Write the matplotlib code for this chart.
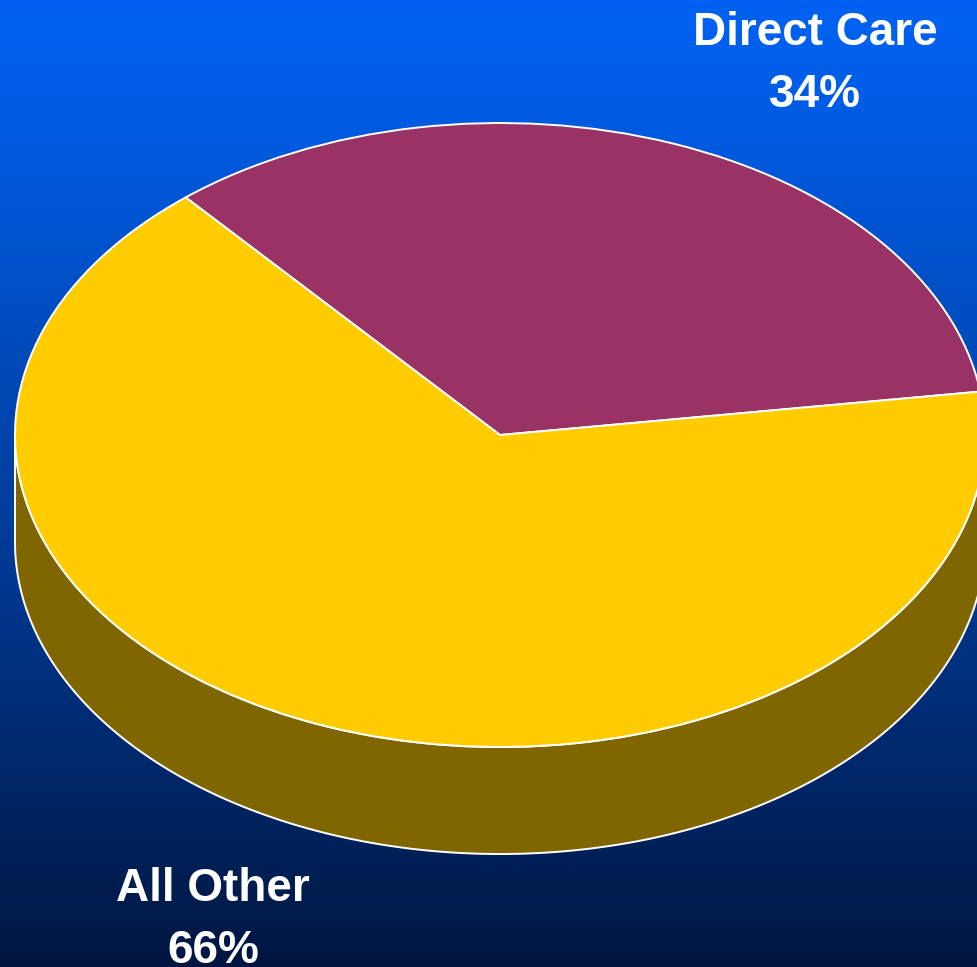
import numpy as np
import matplotlib
matplotlib.use("Agg")
import matplotlib.pyplot as plt

# data
labels = ["Direct Care", "All Other"]
shares = [34, 66]
top_colors = ["#993366", "#FFCC00"]
side_colors = ["#5C1F3D", "#806600"]
start_angle = 8

W, H = 977, 967
depth = 0.343  # wall height in units of the vertical radius

fig = plt.figure(figsize=(W / 100, H / 100), dpi=100)

# background gradient
bg = fig.add_axes([0, 0, 1, 1])
top_rgb = np.array([0, 98, 242]) / 255
bot_rgb = np.array([0, 22, 64]) / 255
f = np.linspace(0, 1, 256)[:, None] ** 1.15
grad = (1 - f) * top_rgb + f * bot_rgb
bg.imshow(grad[:, None, :], aspect="auto", extent=[0, 1, 0, 1])
bg.set_axis_off()

ax = fig.add_axes([0, 0, 1, 1])
ax.patch.set_alpha(0)

# side walls (only the front half, 180..360 deg)
total = sum(shares)
a0 = start_angle
for share, col in zip(shares, side_colors):
    a1 = a0 + share / total * 360
    for lo_lim, hi_lim in [(180, 360), (540, 720)]:
        lo, hi = max(a0, lo_lim), min(a1, hi_lim)
        if hi <= lo:
            continue
        t = np.radians(np.linspace(lo, hi, 300))
        xs = np.concatenate([np.cos(t), np.cos(t[::-1])])
        ys = np.concatenate([np.sin(t), np.sin(t[::-1]) - depth])
        ax.fill(xs, ys, facecolor=col, edgecolor="white", linewidth=1.4, zorder=1)
    a0 = a1

# top face
wedges, _ = ax.pie(shares, colors=top_colors, startangle=start_angle,
                   counterclock=True,
                   wedgeprops=dict(edgecolor="white", linewidth=1.4))
for w in wedges:
    w.set_zorder(2)

ax.set_aspect("auto")
ax.set_xlim(-500 / 485, 477 / 485)
ax.set_ylim(-(H - 435) / 312, 435 / 312)
ax.set_axis_off()

# labels (baselines in pixels from the top)
font = dict(family=["Liberation Sans", "DejaVu Sans"], fontsize=33,
            fontweight="bold", color="white", ha="center", va="baseline")
label_pos = [(815, 45, 107), (213, 901, 963)]
for name, share, (px, py1, py2) in zip(labels, shares, label_pos):
    fig.text(px / W, 1 - py1 / H, name, **font)
    fig.text(px / W, 1 - py2 / H, f"{share}%", **font)

fig.savefig("out.png", dpi=100)
